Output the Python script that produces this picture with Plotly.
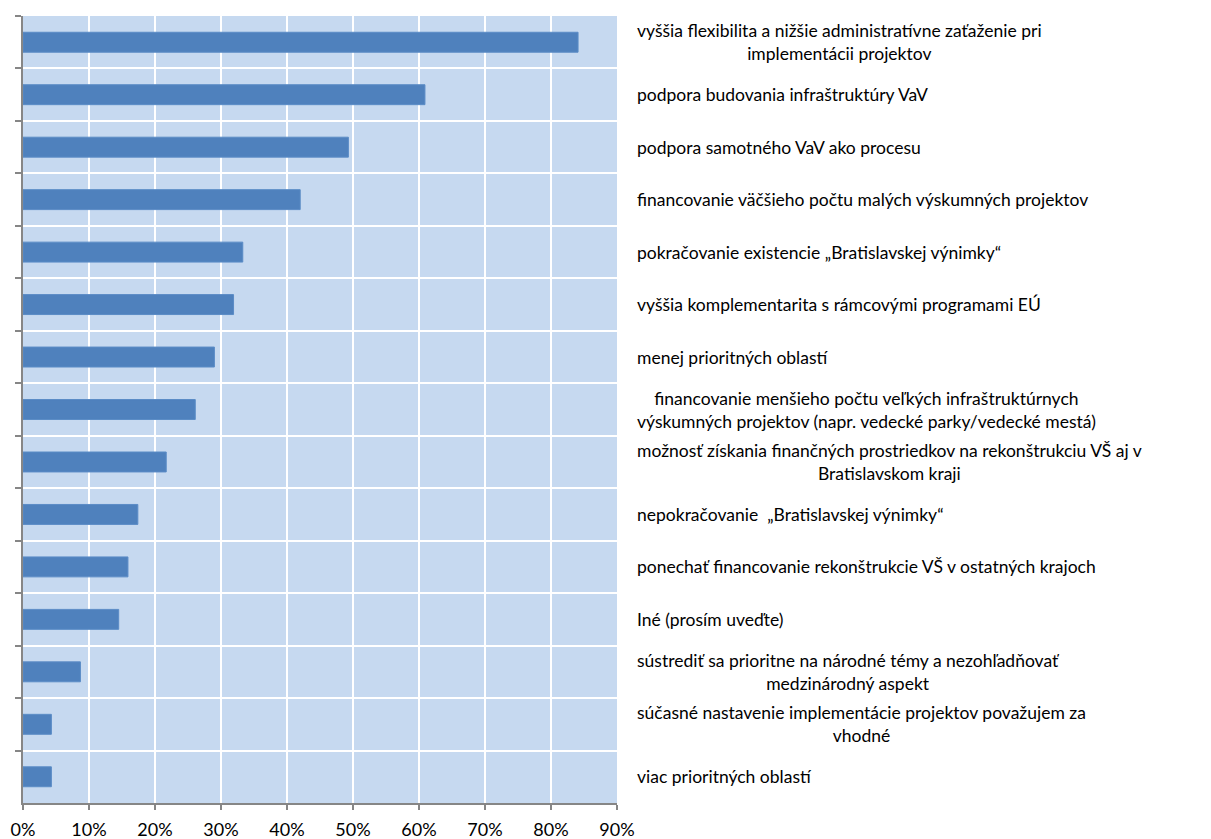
import plotly.graph_objects as go

categories = [
    "vyššia flexibilita a nižšie administratívne zaťaženie pri<br>implementácii projektov",
    "podpora budovania infraštruktúry VaV",
    "podpora samotného VaV ako procesu",
    "financovanie väčšieho počtu malých výskumných projektov",
    "pokračovanie existencie „Bratislavskej výnimky“",
    "vyššia komplementarita s rámcovými programami EÚ",
    "menej prioritných oblastí",
    "financovanie menšieho počtu veľkých infraštruktúrnych<br>výskumných projektov (napr. vedecké parky/vedecké mestá)",
    "možnosť získania finančných prostriedkov na rekonštrukciu VŠ aj v<br>Bratislavskom kraji",
    "nepokračovanie  „Bratislavskej výnimky“",
    "ponechať financovanie rekonštrukcie VŠ v ostatných krajoch",
    "Iné (prosím uveďte)",
    "sústrediť sa prioritne na národné témy a nezohľadňovať<br>medzinárodný aspekt",
    "súčasné nastavenie implementácie projektov považujem za<br>vhodné",
    "viac prioritných oblastí",
]
values = [0.841, 0.609, 0.493, 0.420, 0.333, 0.319, 0.290, 0.261, 0.217, 0.174, 0.159, 0.145, 0.087, 0.043, 0.043]
x_ticks = [0, 0.1, 0.2, 0.3, 0.4, 0.5, 0.6, 0.7, 0.8, 0.9]

FONT = "Lato"
fig = go.Figure()
fig.add_trace(go.Bar(
    x=values, y=categories, orientation="h",
    marker=dict(color="#4F81BD", line=dict(color="#5B8CC6", width=1)),
    width=0.38, hoverinfo="x+y",
))

for c in categories:
    fig.add_annotation(
        x=1.0, xref="paper", y=c, yref="y",
        text=c, showarrow=False, xanchor="left", yanchor="middle",
        xshift=18, align="center",
        font=dict(family=FONT, size=17.5, color="#000000"),
    )

# page body adds an 8px offset; figure sized so the plot sits where the reference has it
fig.update_layout(
    width=1203, height=831,
    margin=dict(l=15, r=594, t=8, b=36, autoexpand=False),
    paper_bgcolor="white", plot_bgcolor="#C6D9F0",
    showlegend=False, bargap=0.62,
    font=dict(family=FONT, color="#000000"),
)
fig.update_xaxes(
    range=[0, 0.9], tickvals=x_ticks, tickformat=".0%",
    showgrid=True, gridcolor="white", gridwidth=1.5,
    showline=True, linecolor="#868686", linewidth=1.5,
    ticks="outside", ticklen=5, tickcolor="#868686", tickwidth=1.5,
    tickfont=dict(family=FONT, size=18, color="#000000"),
    ticklabelstandoff=5, zeroline=False, automargin=False,
)
fig.update_yaxes(
    type="category", categoryorder="array", categoryarray=categories,
    autorange="reversed", tickson="boundaries",
    showgrid=True, gridcolor="white", gridwidth=1.5,
    showline=True, linecolor="#868686", linewidth=1.5,
    ticks="outside", ticklen=6, tickcolor="#868686", tickwidth=1.5,
    showticklabels=False, automargin=False,
)

fig.write_html("out.html")
